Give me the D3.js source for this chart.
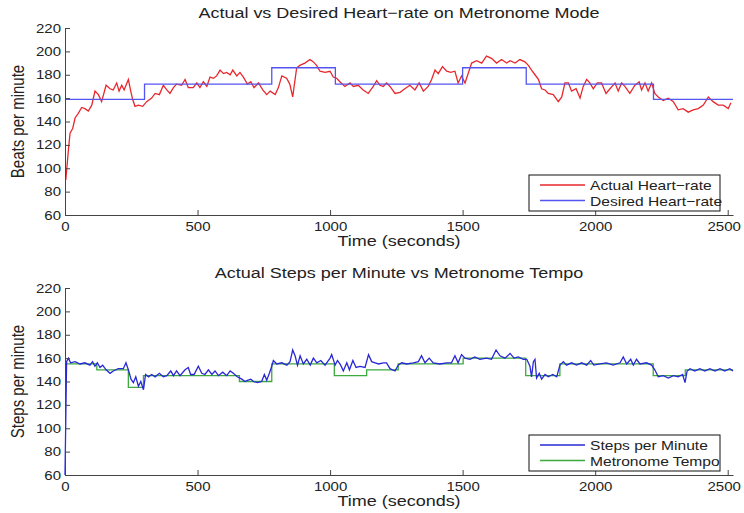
<!DOCTYPE html>
<meta charset="utf-8">
<title>Heart-rate and Steps on Metronome Mode</title>

<style>
body { margin: 0; background: #fff; }
text { font-family: "Liberation Sans", Arial, sans-serif; fill: #222; }
.axis path, .axis line { stroke: #444; }
.line { fill: none; stroke-width: 1.3px; }
</style>

<body>
<svg width="744" height="513"></svg>

<script src="https://cdnjs.cloudflare.com/ajax/libs/d3/7.8.5/d3.min.js"></script>

<script>

// ---- data ----
var yTicks = [60, 80, 100, 120, 140, 160, 180, 200, 220];
var xTicks = [0, 500, 1000, 1500, 2000, 2500];

// actual heart-rate [seconds, bpm]
var heartRate = [[3,90],[13,116],[19,130],[29,134],[38,143],[50,147],[63,152],[75,151],[88,149],[101,154],
  [113,166],[126,163],[138,157],[155,171],[170,168],[182,167],[195,173],[204,166],[214,171],[223,167],
  [239,176],[248,166],[255,159],[264,153],[277,154],[293,153],[308,157],[327,160],[340,164],[356,163],
  [371,171],[384,167],[396,164],[409,169],[421,172],[440,171],[453,176],[465,169],[484,169],[497,173],
  [509,169],[522,174],[535,170],[547,178],[560,177],[572,179],[585,184],[598,181],[610,182],[623,180],
  [633,184],[648,179],[660,182],[673,178],[688,172],[701,174],[713,169],[730,173],[746,167],[761,163],
  [774,166],[793,163],[805,169],[818,179],[836,177],[848,172],[859,161],[874,186],[886,188],[905,190],
  [924,193],[937,191],[949,188],[962,183],[981,182],[1000,183],[1012,178],[1025,177],[1037,174],[1056,170],
  [1075,173],[1088,170],[1106,171],[1125,167],[1144,164],[1163,170],[1176,175],[1188,171],[1201,170],[1213,173],
  [1226,170],[1245,164],[1264,165],[1282,168],[1301,171],[1320,167],[1336,173],[1352,166],[1370,170],[1383,176],
  [1396,184],[1408,181],[1424,187],[1440,183],[1455,182],[1471,183],[1483,173],[1496,179],[1509,173],[1521,181],
  [1534,190],[1553,192],[1572,190],[1590,196],[1609,194],[1628,190],[1647,193],[1666,190],[1679,192],[1698,190],
  [1716,193],[1735,191],[1748,188],[1760,184],[1773,180],[1786,176],[1798,168],[1811,167],[1823,164],[1842,163],
  [1861,157],[1874,161],[1886,173],[1899,173],[1911,166],[1928,168],[1943,160],[1955,170],[1968,176],[1980,173],
  [1993,168],[2008,173],[2024,173],[2041,164],[2056,168],[2075,173],[2087,166],[2100,173],[2112,170],[2131,164],
  [2150,171],[2166,174],[2175,167],[2188,173],[2200,166],[2213,173],[2225,164],[2238,161],[2257,158],[2276,160],
  [2295,157],[2313,150],[2332,151],[2351,148],[2370,150],[2389,151],[2408,154],[2427,161],[2445,157],[2464,154],
  [2483,154],[2502,151],[2512,156]];

// desired heart-rate (step changes)
var desiredTimes  = [0, 300, 780, 1020, 1500, 1740, 2220, 2520];
var desiredValues = [159, 172, 186, 172, 186, 172, 159, 159];

// actual steps per minute [seconds, spm]
var stepsPerMinute = [[0,60],[6,157],[13,160],[21,156],[38,157],[57,155],[75,156],[94,154],[104,157],[113,153],
  [122,156],[132,152],[142,154],[155,150],[170,147],[182,149],[201,151],[220,151],[230,156],[239,150],
  [249,142],[258,139],[267,144],[277,136],[286,140],[296,133],[304,146],[315,144],[327,146],[340,144],
  [356,147],[371,144],[384,145],[399,149],[409,145],[421,149],[434,145],[453,150],[465,152],[474,146],
  [487,146],[503,153],[516,147],[528,146],[541,150],[554,146],[566,149],[579,145],[595,148],[610,145],
  [623,149],[635,147],[650,144],[667,142],[679,140],[688,141],[701,142],[711,140],[726,139],[742,140],
  [752,146],[761,141],[771,147],[780,153],[786,158],[799,155],[818,156],[837,154],[849,157],[859,167],
  [868,162],[877,154],[887,162],[899,155],[912,159],[925,154],[937,160],[950,156],[965,158],[981,154],
  [1000,160],[1006,163],[1019,154],[1028,158],[1040,154],[1050,149],[1063,156],[1073,150],[1086,158],[1098,152],
  [1113,153],[1132,152],[1145,163],[1157,157],[1170,156],[1183,155],[1201,156],[1213,156],[1226,151],[1245,149],
  [1257,154],[1270,156],[1289,155],[1314,156],[1333,157],[1345,162],[1358,156],[1374,160],[1389,156],[1414,155],
  [1440,156],[1458,156],[1471,162],[1483,156],[1496,163],[1509,160],[1528,159],[1546,161],[1565,159],[1590,160],
  [1609,159],[1626,167],[1641,162],[1660,160],[1679,164],[1694,160],[1710,161],[1729,159],[1742,159],[1754,153],
  [1760,144],[1767,157],[1773,159],[1779,143],[1789,147],[1798,142],[1811,146],[1823,144],[1840,146],[1855,144],
  [1867,154],[1880,157],[1892,154],[1911,156],[1930,154],[1949,156],[1968,154],[1983,158],[1995,154],[2018,155],
  [2043,156],[2068,154],[2094,156],[2106,161],[2119,155],[2134,159],[2144,154],[2156,159],[2169,155],[2194,156],
  [2213,154],[2225,150],[2238,144],[2257,145],[2276,143],[2295,145],[2313,144],[2330,146],[2339,139],[2347,149],
  [2358,151],[2376,149],[2395,151],[2414,149],[2433,151],[2452,149],[2471,151],[2489,149],[2508,151],[2520,149]];

// metronome tempo (step changes)
var tempoTimes  = [0, 120, 239, 296, 658, 780, 1016, 1138, 1257, 1502, 1738, 1867, 2219, 2340, 2520];
var tempoValues = [155, 150, 135, 145, 140, 155, 145, 150, 155, 160, 145, 155, 145, 150, 150];

// ---- drawing ----
var svg = d3.select("svg");
var stretch = 1.2;   // the original figure is a little wide

function label(sel, x, y, txt, size, rot) {
  var t = sel.append("text")
      .attr("text-anchor", "middle")
      .style("font-size", size + "px")
      .text(txt);
  if (rot) t.attr("transform", "translate(" + x + "," + y + ") rotate(-90) scale(1," + stretch + ")");
  else t.attr("transform", "translate(" + x + "," + y + ") scale(" + stretch + ",1)");
  return t;
}

var x = d3.scaleLinear().domain([0, 2520]).range([65, 733]);

function panel(opt) {
  var y = d3.scaleLinear().domain([60, 220]).range([opt.bottom, opt.top]);
  var g = svg.append("g");

  var line = d3.line().x(function(d) { return x(d[0]); }).y(function(d) { return y(d[1]); });
  var step = d3.line().curve(d3.curveStepAfter)
      .x(function(d) { return x(d[0]); }).y(function(d) { return y(d[1]); });

  opt.series.forEach(function(s) {
    g.append("path")
        .attr("class", "line")
        .attr("stroke", s.color)
        .attr("d", (s.step ? step : line)(s.data));
  });

  var ax = g.append("g")
      .attr("class", "axis")
      .attr("transform", "translate(0," + opt.bottom + ")")
      .call(d3.axisBottom(x).tickValues(xTicks).tickFormat(d3.format("d"))
            .tickSizeInner(-5).tickSizeOuter(0).tickPadding(7));
  ax.selectAll("text").style("font-size", "12.5px").attr("transform", "scale(" + stretch + ",1)");
  ax.selectAll(".tick:last-of-type text").attr("transform", "translate(-4,0) scale(" + stretch + ",1)");

  var ay = g.append("g")
      .attr("class", "axis")
      .attr("transform", "translate(65,0)")
      .call(d3.axisLeft(y).tickValues(yTicks).tickSizeInner(-5).tickSizeOuter(0));
  ay.selectAll("text").style("font-size", "12.5px")
      .attr("x", 0).attr("transform", "translate(-4,0) scale(" + stretch + ",1)");
  g.selectAll(".axis text").style("fill", "#222");
  g.selectAll(".domain").attr("stroke", "#444");

  label(g, 399, opt.top - 10, opt.title, 15);
  label(g, 399, opt.bottom + 31, "Time (seconds)", 15);
  label(g, 24, (opt.top + opt.bottom) / 2, opt.ylabel, 15, true);

  // legend
  var lg = g.append("g").attr("transform", "translate(529," + opt.legendTop + ")");
  lg.append("rect").attr("width", 191).attr("height", 36)
      .attr("fill", "#fff").attr("stroke", "#111").attr("stroke-width", 1);
  opt.legend.forEach(function(s, i) {
    var yy = 10 + i * 15.5;
    lg.append("line").attr("x1", 11).attr("x2", 56).attr("y1", yy).attr("y2", yy)
        .attr("stroke", s.color).attr("stroke-width", 1.3);
    lg.append("text")
        .attr("transform", "translate(61," + (yy + 5) + ") scale(" + stretch + ",1)")
        .style("font-size", "13px")
        .text(s.name);
  });
}

var desired = desiredTimes.map(function(t, i) { return [t, desiredValues[i]]; });
var tempo = tempoTimes.map(function(t, i) { return [t, tempoValues[i]]; });

panel({
  top: 28, bottom: 215, legendTop: 175,
  title: "Actual vs Desired Heart\u2212rate on Metronome Mode",
  ylabel: "Beats per minute",
  series: [
    {data: heartRate, color: "rgb(232,40,45)"},
    {data: desired, color: "rgb(85,85,240)", step: true}
  ],
  legend: [
    {name: "Actual Heart\u2212rate", color: "rgb(232,40,45)"},
    {name: "Desired Heart\u2212rate", color: "rgb(85,85,240)"}
  ]
});

panel({
  top: 288, bottom: 475, legendTop: 435,
  title: "Actual Steps per Minute vs Metronome Tempo",
  ylabel: "Steps per minute",
  series: [
    {data: tempo, color: "rgb(60,170,60)", step: true},
    {data: stepsPerMinute, color: "rgb(40,40,215)"}
  ],
  legend: [
    {name: "Steps per Minute", color: "rgb(40,40,215)"},
    {name: "Metronome Tempo", color: "rgb(60,170,60)"}
  ]
});

</script>
</body>
